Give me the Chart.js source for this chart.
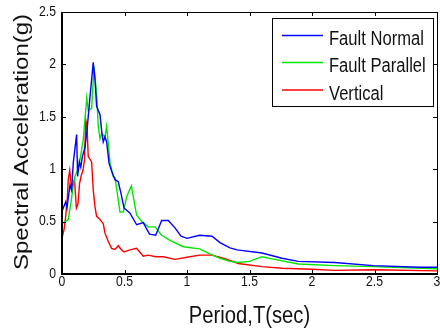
<!DOCTYPE html>
<html>
<head>
<meta charset="utf-8">
<script src="https://cdn.jsdelivr.net/npm/chart.js@4.4.1/dist/chart.umd.min.js"></script>
<style>
  html, body { margin: 0; padding: 0; background: #fff; }
  #wrap { width: 440px; height: 333px; }
</style>
</head>
<body>
<div id="wrap"><canvas id="chart" width="440" height="333"></canvas></div>
<script>
// Response spectra
const periodNormal = [0, 0.03, 0.04, 0.064, 0.077, 0.09, 0.117, 0.125, 0.139, 0.15, 0.163, 0.184, 0.2, 0.224, 0.25, 0.264, 0.277, 0.304, 0.317, 0.33, 0.344, 0.357, 0.376, 0.397, 0.424, 0.45, 0.472, 0.496, 0.544, 0.597, 0.65, 0.7, 0.75, 0.797, 0.85, 0.904, 0.952, 1.0, 1.1, 1.2, 1.264, 1.344, 1.4, 1.6, 1.76, 1.89, 2.18, 2.49, 2.86, 3.0];
const accelNormal = [0.6, 0.69, 0.63, 0.85, 0.8, 1.06, 1.33, 0.93, 1.07, 1.02, 1.12, 1.21, 1.37, 1.69, 2.02, 1.85, 1.6, 1.52, 1.37, 1.26, 1.31, 1.26, 1.06, 0.98, 0.9, 0.88, 0.77, 0.63, 0.58, 0.47, 0.49, 0.38, 0.37, 0.51, 0.51, 0.44, 0.36, 0.34, 0.37, 0.36, 0.3, 0.25, 0.23, 0.2, 0.15, 0.12, 0.11, 0.08, 0.065, 0.065];

const periodParallel = [0, 0.024, 0.05, 0.075, 0.088, 0.104, 0.13, 0.144, 0.17, 0.198, 0.21, 0.237, 0.256, 0.277, 0.29, 0.304, 0.317, 0.344, 0.357, 0.37, 0.384, 0.41, 0.424, 0.45, 0.464, 0.49, 0.518, 0.555, 0.597, 0.64, 0.69, 0.744, 0.797, 0.864, 0.97, 1.1, 1.17, 1.264, 1.344, 1.41, 1.5, 1.6, 1.7, 1.89, 2.18, 2.49, 3.0];
const accelParallel = [0.48, 0.5, 0.52, 0.71, 0.83, 0.93, 1.01, 1.09, 1.28, 1.68, 1.56, 1.58, 1.98, 1.72, 1.41, 1.29, 1.34, 1.31, 1.41, 1.25, 1.06, 0.93, 0.92, 0.71, 0.59, 0.59, 0.74, 0.84, 0.56, 0.5, 0.45, 0.45, 0.37, 0.32, 0.26, 0.24, 0.2, 0.15, 0.12, 0.11, 0.12, 0.165, 0.14, 0.095, 0.08, 0.07, 0.05];

const periodVertical = [0, 0.016, 0.027, 0.042, 0.05, 0.062, 0.075, 0.088, 0.1, 0.115, 0.128, 0.14, 0.154, 0.168, 0.18, 0.19, 0.2, 0.21, 0.237, 0.25, 0.264, 0.277, 0.304, 0.33, 0.344, 0.37, 0.397, 0.424, 0.45, 0.477, 0.496, 0.544, 0.597, 0.65, 0.69, 0.75, 0.81, 0.904, 1.0, 1.1, 1.2, 1.29, 1.344, 1.41, 1.6, 1.76, 2.0, 2.18, 2.49, 3.0];
const accelVertical = [0.34, 0.42, 0.52, 0.71, 0.9, 0.99, 0.83, 0.86, 0.9, 0.63, 0.67, 0.86, 0.94, 0.99, 1.09, 1.47, 1.41, 1.12, 1.07, 0.8, 0.64, 0.55, 0.52, 0.48, 0.39, 0.31, 0.245, 0.235, 0.27, 0.23, 0.21, 0.23, 0.245, 0.17, 0.18, 0.165, 0.165, 0.14, 0.16, 0.18, 0.18, 0.15, 0.13, 0.1, 0.07, 0.055, 0.045, 0.035, 0.04, 0.03];

const seriesLabels = ["Fault Normal", "Fault Parallel", "Vertical"];
const seriesColors = ["#0000ff", "#00e600", "#ff0000"];
const xTicks = [0, 0.5, 1, 1.5, 2, 2.5, 3];
const yTicks = [0, 0.5, 1, 1.5, 2, 2.5];
const xTitle = "Period,T(sec)";
const yTitle = "Spectral Acceleration(g)";

const FONT = "'Liberation Sans', Arial, sans-serif";

function toPoints(xs, ys) {
  return xs.map((x, i) => ({ x: x, y: ys[i] }));
}

// text squeezed horizontally, the figure was stretched narrower
function squeezedText(ctx, text, x, y, size, sx, align, baseline, angle) {
  ctx.save();
  ctx.translate(x, y);
  ctx.scale(sx, 1);
  if (angle) ctx.rotate(angle);
  ctx.font = size + "px " + FONT;
  ctx.fillStyle = "#111";
  ctx.textAlign = align;
  ctx.textBaseline = baseline;
  ctx.fillText(text, 0, 0);
  ctx.restore();
}

const matlabAxes = {
  id: "matlabAxes",
  afterDraw(chart) {
    const ctx = chart.ctx;
    const area = chart.chartArea;
    const xs = chart.scales.x;
    const ys = chart.scales.y;
    const tick = 4;

    ctx.save();
    ctx.strokeStyle = "#000";
    ctx.lineWidth = 1;
    ctx.strokeRect(area.left + 0.5, area.top + 0.5, area.right - area.left, area.bottom - area.top);
    ctx.lineWidth = 2;
    ctx.beginPath();
    ctx.moveTo(area.left, area.top);
    ctx.lineTo(area.left, area.bottom);
    ctx.lineTo(area.right, area.bottom);
    ctx.stroke();

    ctx.lineWidth = 1;
    ctx.beginPath();
    xTicks.forEach(v => {
      const px = Math.round(xs.getPixelForValue(v)) + 0.5;
      ctx.moveTo(px, area.bottom);
      ctx.lineTo(px, area.bottom - tick);
      ctx.moveTo(px, area.top);
      ctx.lineTo(px, area.top + tick);
    });
    yTicks.forEach(v => {
      const py = Math.round(ys.getPixelForValue(v)) + 0.5;
      ctx.moveTo(area.left, py);
      ctx.lineTo(area.left + tick, py);
      ctx.moveTo(area.right, py);
      ctx.lineTo(area.right - tick, py);
    });
    ctx.stroke();
    ctx.restore();

    xTicks.forEach(v => {
      squeezedText(ctx, String(v), xs.getPixelForValue(v), area.bottom + 12, 14, 0.87, "center", "alphabetic");
    });
    yTicks.forEach(v => {
      squeezedText(ctx, String(v), area.left - 6, ys.getPixelForValue(v), 14, 0.87, "right", "middle");
    });

    squeezedText(ctx, xTitle, (area.left + area.right) / 2, 323, 23, 0.88, "center", "alphabetic");
    squeezedText(ctx, yTitle, 28, 142, 24, 0.87, "center", "alphabetic", -Math.PI / 2);

    // legend box
    const lx = 272, ly = 18, lw = 161, lh = 88;
    ctx.save();
    ctx.fillStyle = "#fff";
    ctx.fillRect(lx, ly, lw, lh);
    ctx.strokeStyle = "#000";
    ctx.lineWidth = 1;
    ctx.strokeRect(lx + 0.5, ly + 0.5, lw, lh);
    ctx.restore();
    const rowY = [35.5, 62.5, 90];
    chart.data.datasets.forEach((ds, i) => {
      ctx.save();
      ctx.strokeStyle = ds.borderColor;
      ctx.lineWidth = 1.3;
      ctx.beginPath();
      ctx.moveTo(282, rowY[i]);
      ctx.lineTo(323, rowY[i]);
      ctx.stroke();
      ctx.restore();
      squeezedText(ctx, ds.label, 329, rowY[i] + 9.5, 19.5, 0.85, "left", "alphabetic");
    });
  }
};

new Chart(document.getElementById("chart"), {
  type: "line",
  data: {
    datasets: [
      { label: seriesLabels[0], data: toPoints(periodNormal, accelNormal), borderColor: seriesColors[0] },
      { label: seriesLabels[1], data: toPoints(periodParallel, accelParallel), borderColor: seriesColors[1] },
      { label: seriesLabels[2], data: toPoints(periodVertical, accelVertical), borderColor: seriesColors[2] },
    ].map(ds => ({ ...ds, borderWidth: 1.4, pointRadius: 0, tension: 0, fill: false })),
  },
  options: {
    responsive: false,
    animation: false,
    layout: { padding: { top: 12, right: 3, left: 0, bottom: 0 } },
    plugins: {
      legend: { display: false },
      tooltip: { enabled: false },
    },
    scales: {
      x: {
        type: "linear",
        min: 0,
        max: 3,
        ticks: { display: false, stepSize: 0.5 },
        grid: { display: false },
        border: { display: false },
        afterFit: scale => { scale.height = 59; },
      },
      y: {
        min: 0,
        max: 2.5,
        ticks: { display: false, stepSize: 0.5 },
        grid: { display: false },
        border: { display: false },
        afterFit: scale => { scale.width = 62; },
      },
    },
  },
  plugins: [matlabAxes],
});
</script>
</body>
</html>
